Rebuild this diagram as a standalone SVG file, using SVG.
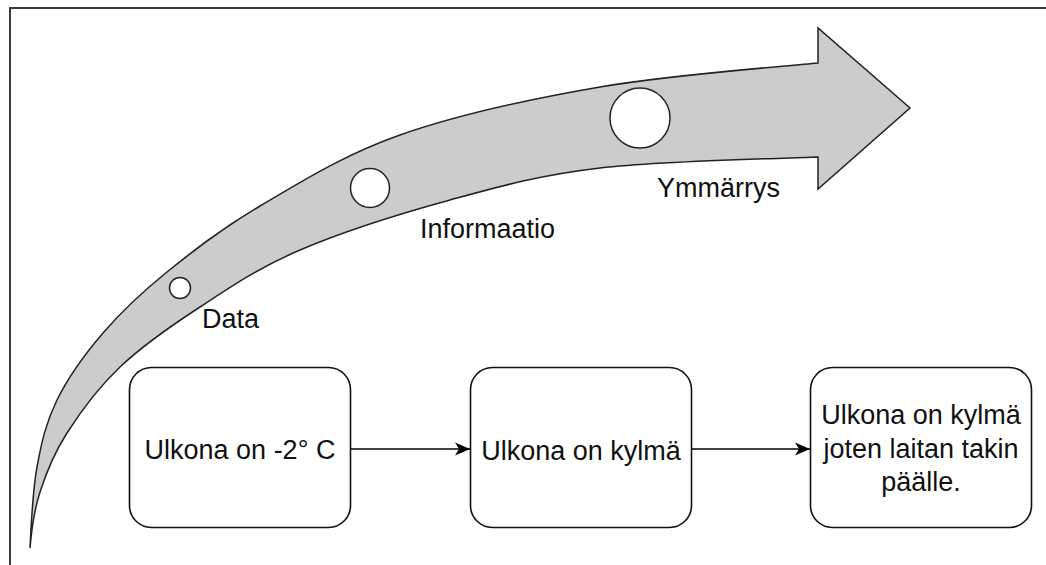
<svg xmlns="http://www.w3.org/2000/svg" width="1046" height="565" viewBox="0 0 1046 565">
  <style>
    .lbl { font-family: "Liberation Sans", Arial, sans-serif; font-size: 27px; fill: #111; }
    .mid { text-anchor: middle; }
    .box { fill: #fff; stroke: #111; stroke-width: 1.6; }
    .dot { fill: #fff; stroke: #222; stroke-width: 1.5; }
    .conn { stroke: #000; stroke-width: 1.6; fill: none; }
  </style>
  <defs>
    <marker id="ah" markerWidth="15" markerHeight="14" refX="15" refY="7" orient="auto" markerUnits="userSpaceOnUse">
      <path d="M0,0.5 L15,7 L0,13.5 L4,7 Z" fill="#000"/>
    </marker>
  </defs>
  <rect width="1046" height="565" fill="#fff"/>
  <path id="frame" d="M10,566 V8 H1047" fill="none" stroke="#3a3a3a" stroke-width="2"/>

  <g id="bigArrow">
    <path d="M30,548 C31.3,522.5 32.5,491.7 37,467 C41.5,442.3 46,422.3 57,400 C68,377.7 84.7,354.3 103,333 C121.3,311.7 140.8,293.2 167,272 C193.2,250.8 221.2,228.8 260,206 C298.8,183.2 343.3,154.8 400,135 C456.7,115.2 530.3,99 600,87 C669.7,75 768,67.8 818,63 L818,28 L910,108 L818,189 L818,157 C768,159 661.3,160.8 600,168 C538.7,175.2 500,186.3 450,200 C400,213.7 341.7,232.2 300,250 C258.3,267.8 230,287.5 200,307 C170,326.5 142.2,346 120,367 C97.8,388 80.3,412.2 67,433 C53.7,453.8 46.2,472.8 40,492 C33.8,511.2 31.8,526.7 30,548 Z" fill="#cccccc" stroke="#222" stroke-width="1.5" stroke-linejoin="miter"/>
  </g>

  <g id="stageData">
    <circle class="dot" cx="180" cy="288" r="10.5"/>
    <text class="lbl" x="202" y="328">Data</text>
  </g>
  <g id="stageInformaatio">
    <circle class="dot" cx="370" cy="188" r="19.5"/>
    <text class="lbl" x="420" y="238">Informaatio</text>
  </g>
  <g id="stageYmmarrys">
    <circle class="dot" cx="640" cy="118" r="30"/>
    <text class="lbl" x="657" y="197">Ymmärrys</text>
  </g>

  <g id="connectors">
    <line class="conn" x1="351" y1="449" x2="470" y2="449" marker-end="url(#ah)"/>
    <line class="conn" x1="691" y1="449" x2="810" y2="449" marker-end="url(#ah)"/>
  </g>

  <g id="box1">
    <rect class="box" x="129.5" y="367.5" width="221" height="160" rx="22"/>
    <text class="lbl mid" x="240" y="459">Ulkona on -2° C</text>
  </g>
  <g id="box2">
    <rect class="box" x="470.5" y="367.5" width="221" height="160" rx="22"/>
    <text class="lbl mid" x="581" y="460">Ulkona on kylmä</text>
  </g>
  <g id="box3">
    <rect class="box" x="810.5" y="367.5" width="221" height="160" rx="22"/>
    <text class="lbl mid" x="921" y="424">Ulkona on kylmä</text>
    <text class="lbl mid" x="921" y="458">joten laitan takin</text>
    <text class="lbl mid" x="921" y="491">päälle.</text>
  </g>
</svg>
